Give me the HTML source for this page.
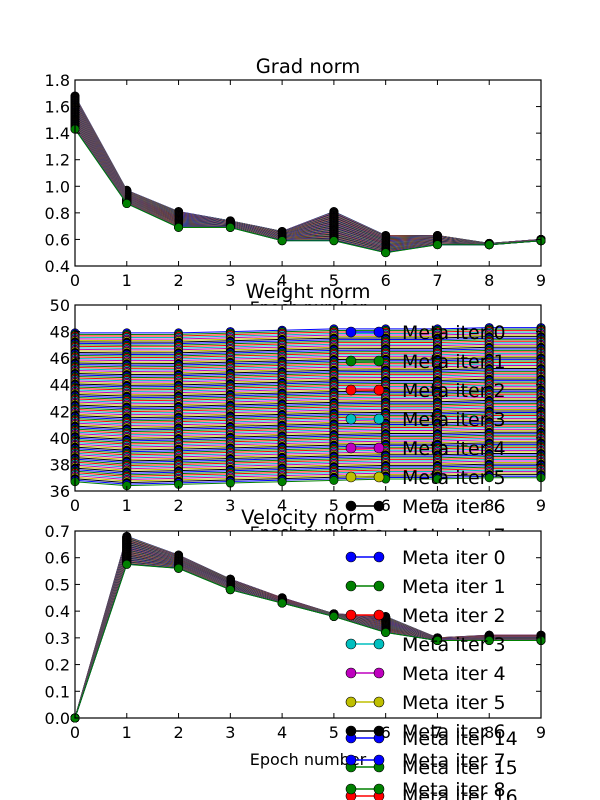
<!DOCTYPE html>
<html><head><meta charset="utf-8"><style>
body{margin:0;background:#fff}
svg{display:block;font-family:"DejaVu Sans","Liberation Sans",sans-serif}
</style></head><body>
<svg id="fig" width="600" height="800" viewBox="0 0 600 800"></svg>
<script>
const epochs=[0,1,2,3,4,5,6,7,8,9];
const gradHigh=[1.68,0.97,0.81,0.74,0.66,0.81,0.63,0.63,0.57,0.60];
const gradLow=[1.43,0.87,0.69,0.69,0.59,0.59,0.50,0.56,0.56,0.59];
const weightHigh=[47.9,47.9,47.9,48.0,48.1,48.2,48.2,48.2,48.3,48.3];
const weightLow=[36.7,36.4,36.5,36.6,36.7,36.8,36.9,36.9,37.0,37.0];
const velHigh=[0,0.68,0.61,0.52,0.45,0.39,0.38,0.30,0.31,0.31];
const velLow=[0,0.575,0.56,0.48,0.43,0.38,0.32,0.29,0.29,0.29];
const gradTicks=["0.4","0.6","0.8","1.0","1.2","1.4","1.6","1.8"];
const weightTicks=["36","38","40","42","44","46","48","50"];
const velTicks=["0.0","0.1","0.2","0.3","0.4","0.5","0.6","0.7"];
const xTicks=["0","1","2","3","4","5","6","7","8","9"];
const NSERIES=100;
const colors=["#0000ff","#008000","#ff0000","#00bfbf","#bf00bf","#bfbf00","#000000"];
const NS="http://www.w3.org/2000/svg";
const svg=document.getElementById('fig');
function el(tag,attrs,parent){const e=document.createElementNS(NS,tag);for(const k in attrs)e.setAttribute(k,attrs[k]);(parent||svg).appendChild(e);return e;}
const X0=75,X1=541;
function xs(v){return X0+(X1-X0)*v/9;}

function drawAxes(name,top,bot,ymin,ymax,hi,lo,ticks,title){
  const g=el('g',{});
  
  
  const ys=v=>bot-(bot-top)*(v-ymin)/(ymax-ymin);
  const bg=el('rect',{x:X0,y:top,width:X1-X0,height:bot-top,fill:'#fff'},g);
  
  
  for(let i=0;i<NSERIES;i++){
    const t=1-i/(NSERIES-1);
    const vals=epochs.map((e,j)=>lo[j]+(hi[j]-lo[j])*t);
    const c=colors[i%7];
    const sg=el('g',{},g);
    
    
    el('polyline',{points:epochs.map((e,j)=>xs(e)+','+ys(vals[j])).join(' '),fill:'none',stroke:c,'stroke-width':1},sg);
    epochs.forEach((e,j)=>{el('circle',{cx:xs(e),cy:ys(vals[j]),r:4.2,fill:c,stroke:'#000','stroke-width':0.6},sg);});
  }
  const fr=el('rect',{x:X0,y:top,width:X1-X0,height:bot-top,fill:'none',stroke:'#000','stroke-width':1.2},g);
  
  
  ticks.forEach(lab=>{
    const v=parseFloat(lab);const y=ys(v);
    el('line',{x1:X0,x2:X0+5,y1:y,y2:y,stroke:'#000'},g);
    el('line',{x1:X1-5,x2:X1,y1:y,y2:y,stroke:'#000'},g);
    const t=el('text',{x:70,y:y+6,'text-anchor':'end','font-size':16},g);
    t.textContent=lab;
    
    
  });
  xTicks.forEach(lab=>{
    const x=xs(parseFloat(lab));
    el('line',{x1:x,x2:x,y1:bot,y2:bot-5,stroke:'#000'},g);
    el('line',{x1:x,x2:x,y1:top,y2:top+5,stroke:'#000'},g);
    const t=el('text',{x:x,y:bot+20,'text-anchor':'middle','font-size':16},g);
    t.textContent=lab;
    
    
  });
  const tt=el('text',{x:308,y:top-7,'text-anchor':'middle','font-size':19.5},g);
  tt.textContent=title;
  
  
  const xl=el('text',{x:308,y:bot+47,'text-anchor':'middle','font-size':16},g);
  xl.textContent='Epoch number';
  
  
}
function drawLegend(name,y0,count){
  const g=el('g',{});
  
  
  for(let k=0;k<count;k++){
    const y=y0+29*k;const c=colors[k%7];
    const e=el('g',{},g);
    
    
    el('line',{x1:351,x2:379,y1:y,y2:y,stroke:c,'stroke-width':1.5},e);
    el('circle',{cx:351,cy:y,r:5,fill:c,stroke:'#000','stroke-width':0.6},e);
    el('circle',{cx:379,cy:y,r:5,fill:c,stroke:'#000','stroke-width':0.6},e);
    const t=el('text',{x:402,y:y+7,'font-size':19},e);
    t.textContent='Meta iter '+k;
  }
}
drawAxes('grad-norm',80,266,0.4,1.8,gradHigh,gradLow,gradTicks,'Grad norm');
drawAxes('weight-norm',305,491,36,50,weightHigh,weightLow,weightTicks,'Weight norm');
drawLegend('weight-norm',332,17);
drawAxes('velocity-norm',531,718,0,0.7,velHigh,velLow,velTicks,'Velocity norm');
drawLegend('velocity-norm',557,9);
</script>
</body></html>
